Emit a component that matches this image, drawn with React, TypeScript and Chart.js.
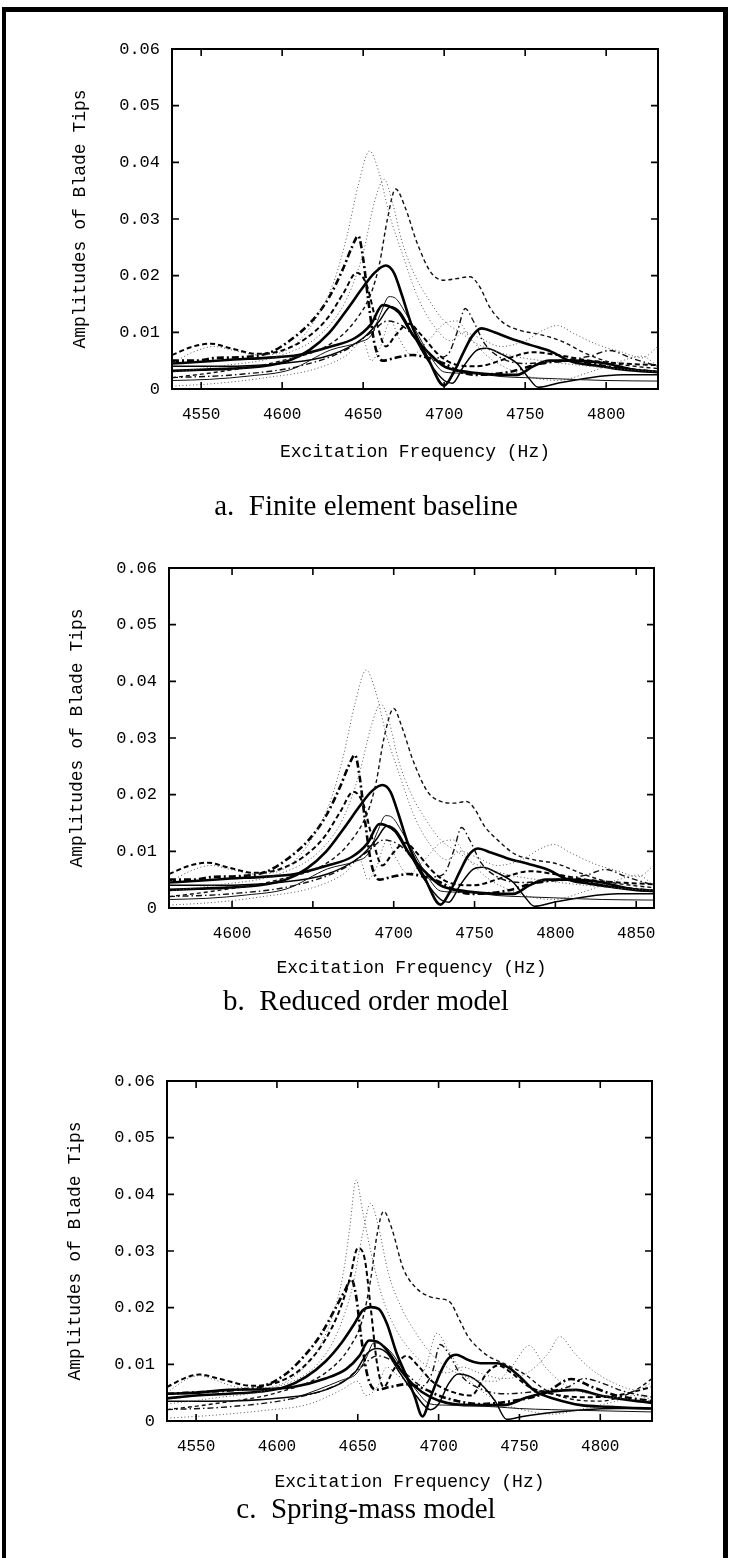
import React, { useEffect, useRef } from 'react';
import { Chart, registerables } from 'chart.js';

Chart.register(...registerables);

type Pt = [number, number];

// ---------------- axis values ----------------
const Y_MIN = 0;
const Y_MAX = 0.06;
const Y_TICKS = [0, 0.01, 0.02, 0.03, 0.04, 0.05, 0.06];
const Y_TICK_LABELS = ['0', '0.01', '0.02', '0.03', '0.04', '0.05', '0.06'];
const X_TITLE = 'Excitation Frequency (Hz)';
const Y_TITLE = 'Amplitudes of Blade Tips';

const A_X_RANGE = [4532, 4832];
const A_X_TICKS = [4550, 4600, 4650, 4700, 4750, 4800];
const B_X_RANGE = [4561, 4861];
const B_X_TICKS = [4600, 4650, 4700, 4750, 4800, 4850];
const C_X_RANGE = [4532, 4832];
const C_X_TICKS = [4550, 4600, 4650, 4700, 4750, 4800];

const CAPTIONS = ['a.  Finite element baseline', 'b.  Reduced order model', 'c.  Spring-mass model'];

// ---------------- a. Finite element baseline ----------------
const A_S1: Pt[] = [[4532,0.0045],[4545,0.0065],[4558,0.0075],[4570,0.0068],[4585,0.006],[4600,0.0065],[4612,0.009],[4622,0.013],[4632,0.019],[4640,0.027],[4647,0.036],[4654,0.042],[4660,0.038],[4666,0.031],[4674,0.024],[4684,0.016],[4694,0.011],[4704,0.0085],[4712,0.01],[4722,0.009],[4735,0.0075],[4750,0.0085],[4762,0.0105],[4770,0.0112],[4780,0.0098],[4795,0.0078],[4810,0.0065],[4822,0.0055],[4832,0.0075]];
const A_S2: Pt[] = [[4532,0.003],[4560,0.004],[4600,0.006],[4625,0.01],[4640,0.016],[4650,0.024],[4657,0.033],[4663,0.037],[4668,0.033],[4674,0.026],[4682,0.02],[4690,0.016],[4700,0.012],[4710,0.01],[4720,0.008],[4740,0.006],[4760,0.005],[4790,0.004],[4832,0.003]];
const A_S3: Pt[] = [[4532,0.002],[4560,0.003],[4600,0.005],[4630,0.008],[4645,0.012],[4655,0.017],[4660,0.022],[4665,0.03],[4670,0.0353],[4676,0.032],[4683,0.026],[4692,0.0205],[4700,0.0192],[4708,0.0195],[4716,0.0198],[4722,0.018],[4728,0.0145],[4736,0.0118],[4746,0.0104],[4758,0.0097],[4772,0.0085],[4788,0.0062],[4804,0.0046],[4818,0.004],[4832,0.0036]];
const A_S4: Pt[] = [[4532,0.005],[4546,0.005],[4560,0.0055],[4574,0.0056],[4592,0.0064],[4605,0.0086],[4619,0.0122],[4629,0.0162],[4638,0.0215],[4643,0.025],[4647,0.027],[4650,0.023],[4653,0.016],[4657,0.008],[4662,0.005],[4670,0.0055],[4680,0.006],[4690,0.0055],[4700,0.0045],[4710,0.003],[4720,0.0025],[4740,0.003],[4760,0.0045],[4780,0.005],[4800,0.004],[4832,0.003]];
const A_S5: Pt[] = [[4532,0.0032],[4550,0.0034],[4568,0.0036],[4588,0.004],[4605,0.0051],[4617,0.0069],[4629,0.0099],[4640,0.014],[4650,0.018],[4657,0.0205],[4664,0.0218],[4669,0.0205],[4674,0.0165],[4680,0.0112],[4690,0.0054],[4700,0.0006],[4706,0.003],[4712,0.0065],[4717,0.0092],[4723,0.0107],[4731,0.01],[4741,0.0089],[4754,0.0077],[4766,0.0066],[4779,0.0048],[4792,0.0042],[4806,0.0036],[4820,0.0032],[4832,0.003]];
const A_S6: Pt[] = [[4532,0.0015],[4555,0.0017],[4580,0.0023],[4605,0.0034],[4630,0.0069],[4648,0.0083],[4655,0.0095],[4661,0.0135],[4666,0.0163],[4670,0.016],[4676,0.0135],[4684,0.0095],[4692,0.0055],[4700,0.003],[4710,0.0028],[4720,0.0027],[4735,0.0022],[4750,0.002],[4770,0.0018],[4800,0.0015],[4832,0.0014]];
const A_S7: Pt[] = [[4532,0.004],[4560,0.004],[4600,0.0045],[4630,0.006],[4650,0.009],[4660,0.012],[4667,0.0145],[4673,0.0135],[4680,0.01],[4690,0.005],[4700,0.0015],[4705,0.001],[4712,0.004],[4720,0.0068],[4726,0.0072],[4735,0.0062],[4745,0.0045],[4752,0.002],[4758,0.0003],[4770,0.001],[4790,0.002],[4810,0.0025],[4832,0.0025]];
const A_S8: Pt[] = [[4532,0.0045],[4550,0.0048],[4570,0.0052],[4590,0.0055],[4610,0.006],[4630,0.0075],[4645,0.009],[4655,0.0115],[4662,0.0148],[4666,0.0146],[4672,0.0135],[4680,0.0098],[4690,0.0065],[4700,0.004],[4710,0.0032],[4720,0.0028],[4735,0.0025],[4745,0.0025],[4755,0.004],[4765,0.005],[4780,0.005],[4800,0.0045],[4815,0.0035],[4832,0.003]];
const A_S9: Pt[] = [[4532,0.002],[4570,0.0025],[4610,0.004],[4640,0.007],[4655,0.01],[4665,0.012],[4675,0.011],[4685,0.008],[4695,0.0055],[4702,0.006],[4708,0.01],[4713,0.0142],[4718,0.012],[4725,0.008],[4735,0.0055],[4750,0.0045],[4770,0.005],[4790,0.0058],[4802,0.0068],[4815,0.0055],[4832,0.004]];
const A_S10: Pt[] = [[4532,0.006],[4545,0.0075],[4556,0.008],[4568,0.0072],[4585,0.0062],[4600,0.0068],[4615,0.009],[4628,0.0125],[4638,0.017],[4646,0.0205],[4652,0.0185],[4658,0.012],[4664,0.0075],[4670,0.0095],[4678,0.0115],[4686,0.0095],[4695,0.0065],[4705,0.0045],[4720,0.004],[4740,0.0055],[4755,0.0065],[4770,0.006],[4790,0.005],[4810,0.0045],[4832,0.0042]];
const A_S11: Pt[] = [[4532,0.0005],[4560,0.001],[4590,0.002],[4620,0.0035],[4640,0.006],[4650,0.0085],[4655,0.005],[4660,0.007],[4667,0.012],[4672,0.009],[4680,0.006],[4690,0.0085],[4700,0.0115],[4708,0.012],[4716,0.009],[4728,0.0055],[4740,0.0035],[4755,0.002],[4770,0.0015],[4790,0.003],[4810,0.005],[4822,0.0058],[4832,0.004]];

// ---------------- b. Reduced order model ----------------
const B_S1: Pt[] = [[4561,0.0045],[4574,0.0065],[4587,0.0075],[4599,0.0068],[4614,0.006],[4629,0.0065],[4641,0.009],[4651,0.013],[4661,0.019],[4669,0.027],[4676,0.036],[4683,0.042],[4689,0.038],[4695,0.031],[4703,0.024],[4713,0.016],[4723,0.011],[4733,0.0085],[4741,0.01],[4751,0.009],[4764,0.0075],[4779,0.0085],[4791,0.0105],[4799,0.0112],[4809,0.0098],[4824,0.0078],[4839,0.0065],[4851,0.0055],[4861,0.0075]];
const B_S2: Pt[] = [[4561,0.003],[4589,0.004],[4629,0.006],[4654,0.01],[4669,0.016],[4679,0.024],[4686,0.032],[4692,0.036],[4697,0.033],[4703,0.026],[4711,0.02],[4719,0.016],[4729,0.012],[4739,0.01],[4749,0.008],[4769,0.006],[4789,0.005],[4819,0.004],[4861,0.003]];
const B_S3: Pt[] = [[4561,0.002],[4589,0.003],[4629,0.005],[4659,0.008],[4674,0.012],[4684,0.017],[4689,0.022],[4694,0.03],[4700,0.0352],[4705,0.032],[4712,0.026],[4721,0.0205],[4729,0.0188],[4737,0.0185],[4745,0.0188],[4750,0.0175],[4756,0.0145],[4765,0.0118],[4775,0.0095],[4787,0.0085],[4801,0.0078],[4817,0.006],[4833,0.0046],[4847,0.004],[4861,0.0036]];
const B_S4: Pt[] = [[4561,0.005],[4575,0.005],[4589,0.0055],[4603,0.0056],[4621,0.0064],[4634,0.0086],[4648,0.0122],[4658,0.0162],[4667,0.0215],[4672,0.025],[4676,0.027],[4679,0.023],[4682,0.016],[4686,0.008],[4691,0.005],[4699,0.0055],[4709,0.006],[4719,0.0055],[4729,0.0045],[4739,0.003],[4749,0.0025],[4769,0.003],[4789,0.0045],[4809,0.005],[4829,0.004],[4861,0.003]];
const B_S5: Pt[] = [[4561,0.0032],[4579,0.0034],[4597,0.0036],[4617,0.004],[4634,0.0051],[4646,0.0069],[4658,0.0099],[4669,0.014],[4679,0.018],[4686,0.0205],[4693,0.0217],[4698,0.0205],[4703,0.0165],[4709,0.0112],[4719,0.0054],[4729,0.0006],[4735,0.003],[4741,0.0065],[4746,0.0092],[4752,0.0105],[4760,0.0098],[4770,0.0088],[4783,0.0078],[4795,0.0068],[4808,0.005],[4821,0.0043],[4835,0.0037],[4849,0.0032],[4861,0.003]];
const B_S6: Pt[] = [[4561,0.0015],[4584,0.0017],[4609,0.0023],[4634,0.0034],[4659,0.0069],[4677,0.0083],[4684,0.0095],[4690,0.0135],[4695,0.0163],[4699,0.016],[4705,0.0135],[4713,0.0095],[4721,0.0055],[4729,0.003],[4739,0.0028],[4749,0.0027],[4764,0.0022],[4779,0.002],[4799,0.0018],[4829,0.0015],[4861,0.0014]];
const B_S7: Pt[] = [[4561,0.004],[4589,0.004],[4629,0.0045],[4659,0.006],[4679,0.009],[4689,0.012],[4696,0.0145],[4702,0.0135],[4709,0.01],[4719,0.005],[4729,0.0015],[4734,0.001],[4741,0.004],[4749,0.0068],[4755,0.0072],[4764,0.0062],[4774,0.0045],[4781,0.002],[4787,0.0003],[4799,0.001],[4819,0.002],[4839,0.0025],[4861,0.0025]];
const B_S8: Pt[] = [[4561,0.0045],[4579,0.0048],[4599,0.0052],[4619,0.0055],[4639,0.006],[4659,0.0075],[4674,0.009],[4684,0.0115],[4691,0.0148],[4695,0.0146],[4701,0.0135],[4709,0.0098],[4719,0.0065],[4729,0.004],[4739,0.0032],[4749,0.0028],[4764,0.0025],[4774,0.0025],[4784,0.004],[4794,0.005],[4809,0.005],[4829,0.0045],[4844,0.0035],[4861,0.003]];
const B_S9: Pt[] = [[4561,0.002],[4599,0.0025],[4639,0.004],[4669,0.007],[4684,0.01],[4694,0.012],[4704,0.011],[4714,0.008],[4724,0.0055],[4731,0.006],[4737,0.01],[4742,0.0142],[4747,0.012],[4754,0.008],[4764,0.0055],[4779,0.0045],[4799,0.005],[4819,0.0058],[4831,0.0068],[4844,0.0055],[4861,0.004]];
const B_S10: Pt[] = [[4561,0.006],[4574,0.0075],[4585,0.008],[4597,0.0072],[4614,0.0062],[4629,0.0068],[4644,0.009],[4657,0.0125],[4667,0.017],[4675,0.0205],[4681,0.0185],[4687,0.012],[4693,0.0075],[4699,0.0095],[4707,0.0115],[4715,0.0095],[4724,0.0065],[4734,0.0045],[4749,0.004],[4769,0.0055],[4784,0.0065],[4799,0.006],[4819,0.005],[4839,0.0045],[4861,0.0042]];
const B_S11: Pt[] = [[4561,0.0005],[4589,0.001],[4619,0.002],[4649,0.0035],[4669,0.006],[4679,0.0085],[4684,0.005],[4689,0.007],[4696,0.012],[4701,0.009],[4709,0.006],[4719,0.0085],[4729,0.0115],[4737,0.012],[4745,0.009],[4757,0.0055],[4769,0.0035],[4784,0.002],[4799,0.0015],[4819,0.003],[4839,0.005],[4851,0.0058],[4861,0.004]];

// ---------------- c. Spring-mass model ----------------
const C_S1: Pt[] = [[4532,0.005],[4545,0.0075],[4552,0.008],[4562,0.0072],[4575,0.006],[4590,0.0058],[4605,0.0068],[4617,0.0095],[4627,0.0135],[4635,0.019],[4641,0.026],[4645,0.034],[4649,0.0425],[4653,0.037],[4658,0.03],[4665,0.022],[4674,0.016],[4684,0.012],[4694,0.0095],[4705,0.0085],[4715,0.0095],[4725,0.0085],[4740,0.0075],[4755,0.0085],[4768,0.012],[4775,0.0149],[4784,0.012],[4795,0.009],[4810,0.0065],[4822,0.0055],[4832,0.0068]];
const C_S2: Pt[] = [[4532,0.003],[4560,0.004],[4600,0.006],[4625,0.01],[4638,0.016],[4647,0.024],[4653,0.033],[4658,0.0384],[4663,0.034],[4669,0.026],[4677,0.02],[4686,0.0155],[4695,0.012],[4705,0.0095],[4720,0.0075],[4735,0.007],[4745,0.0095],[4756,0.0133],[4766,0.0095],[4780,0.006],[4800,0.0045],[4832,0.0035]];
const C_S3: Pt[] = [[4532,0.002],[4560,0.003],[4600,0.005],[4630,0.0085],[4645,0.013],[4653,0.018],[4658,0.025],[4662,0.033],[4666,0.037],[4671,0.034],[4678,0.027],[4686,0.0235],[4694,0.022],[4700,0.0216],[4707,0.021],[4713,0.0178],[4718,0.015],[4724,0.013],[4731,0.0114],[4740,0.0102],[4753,0.0083],[4766,0.0055],[4780,0.004],[4800,0.0035],[4815,0.0045],[4825,0.006],[4832,0.0075]];
const C_S4: Pt[] = [[4532,0.0048],[4546,0.005],[4560,0.0052],[4575,0.0055],[4592,0.0062],[4605,0.0082],[4617,0.0115],[4627,0.0152],[4636,0.0198],[4642,0.023],[4646,0.025],[4649,0.022],[4652,0.015],[4656,0.008],[4661,0.0055],[4670,0.006],[4680,0.0065],[4690,0.0058],[4700,0.0045],[4712,0.0035],[4725,0.003],[4745,0.0035],[4765,0.0048],[4782,0.0074],[4795,0.006],[4810,0.0045],[4832,0.0035]];
const C_S5: Pt[] = [[4532,0.004],[4550,0.0045],[4570,0.0048],[4590,0.0052],[4605,0.006],[4618,0.0078],[4630,0.0105],[4640,0.0138],[4648,0.0172],[4653,0.0195],[4658,0.0201],[4663,0.0198],[4668,0.0172],[4674,0.012],[4680,0.008],[4685,0.0045],[4690,0.0008],[4695,0.0042],[4701,0.0085],[4706,0.011],[4711,0.0117],[4718,0.0108],[4726,0.0102],[4736,0.0102],[4744,0.0093],[4751,0.0076],[4760,0.0052],[4772,0.0039],[4788,0.0028],[4805,0.0025],[4820,0.0023],[4832,0.0022]];
const C_S6: Pt[] = [[4609,0.0038],[4625,0.0055],[4640,0.0072],[4649,0.0083],[4655,0.011],[4660,0.0138],[4665,0.0135],[4671,0.012],[4678,0.009],[4686,0.0055],[4695,0.003],[4705,0.0028],[4720,0.0027],[4735,0.0025],[4750,0.0022],[4770,0.002],[4800,0.0018],[4832,0.0016]];
const C_S7: Pt[] = [[4532,0.0035],[4560,0.0035],[4600,0.004],[4630,0.0055],[4648,0.0085],[4656,0.012],[4662,0.0128],[4668,0.012],[4676,0.0085],[4686,0.0045],[4695,0.002],[4700,0.003],[4706,0.0065],[4712,0.0083],[4720,0.0078],[4728,0.006],[4735,0.0035],[4742,0.0003],[4752,0.0008],[4770,0.0015],[4790,0.002],[4810,0.0022],[4832,0.0022]];
const C_S8: Pt[] = [[4532,0.0048],[4550,0.005],[4570,0.0055],[4590,0.0056],[4610,0.006],[4630,0.0075],[4643,0.0092],[4651,0.0115],[4657,0.0142],[4662,0.014],[4668,0.0125],[4676,0.0092],[4685,0.0062],[4695,0.0042],[4705,0.0032],[4720,0.0028],[4730,0.0028],[4740,0.0028],[4755,0.0042],[4770,0.0052],[4785,0.0055],[4800,0.0045],[4815,0.0038],[4832,0.0032]];
const C_S9: Pt[] = [[4532,0.002],[4570,0.0025],[4610,0.004],[4640,0.0068],[4652,0.0095],[4662,0.0115],[4672,0.0105],[4682,0.0078],[4690,0.0062],[4696,0.0085],[4701,0.0135],[4706,0.012],[4714,0.008],[4725,0.0058],[4740,0.0048],[4760,0.0052],[4780,0.006],[4790,0.0075],[4800,0.0068],[4815,0.0052],[4832,0.0042]];
const C_S10: Pt[] = [[4532,0.006],[4545,0.0078],[4552,0.0082],[4565,0.0074],[4585,0.0062],[4600,0.0068],[4615,0.0092],[4628,0.0135],[4638,0.019],[4645,0.025],[4650,0.0305],[4654,0.029],[4658,0.02],[4662,0.01],[4666,0.006],[4672,0.009],[4680,0.0115],[4688,0.0095],[4696,0.007],[4705,0.0055],[4720,0.0045],[4730,0.0085],[4737,0.0098],[4745,0.0085],[4755,0.0062],[4770,0.0048],[4790,0.0042],[4810,0.0045],[4832,0.006]];
const C_S11: Pt[] = [[4532,0.0005],[4560,0.001],[4590,0.0018],[4620,0.003],[4640,0.0055],[4650,0.007],[4655,0.0045],[4662,0.006],[4668,0.0095],[4675,0.008],[4685,0.0065],[4692,0.0095],[4699,0.0155],[4706,0.0125],[4715,0.0085],[4728,0.005],[4740,0.003],[4755,0.0018],[4770,0.0012],[4790,0.0022],[4810,0.0035],[4822,0.0045],[4832,0.0038]];

const A_SERIES = [A_S1, A_S2, A_S3, A_S4, A_S5, A_S6, A_S7, A_S8, A_S9, A_S10, A_S11];
const B_SERIES = [B_S1, B_S2, B_S3, B_S4, B_S5, B_S6, B_S7, B_S8, B_S9, B_S10, B_S11];
const C_SERIES = [C_S1, C_S2, C_S3, C_S4, C_S5, C_S6, C_S7, C_S8, C_S9, C_S10, C_S11];

// ---------------- styles (not data) ----------------
type LineStyle = { color: string; width: number; dash: number[] };
const STYLE: Record<string, LineStyle> = {
  dot: { color: '#555', width: 1, dash: [1, 2.5] },
  dash: { color: '#111', width: 1.4, dash: [4, 3] },
  dashDotThick: { color: '#000', width: 2.6, dash: [7, 3, 2, 3] },
  solidThick: { color: '#000', width: 2.6, dash: [] },
  solid: { color: '#000', width: 1.5, dash: [] },
  thin: { color: '#111', width: 1, dash: [] },
  dashDot: { color: '#111', width: 1.4, dash: [6, 3, 1.5, 3] },
  dashThick: { color: '#000', width: 2, dash: [5, 3] },
};
const SERIES_STYLES = ['dot', 'dot', 'dash', 'dashDotThick', 'solidThick', 'thin', 'solid', 'solidThick', 'dashDot', 'dashThick', 'dot'];

const MONO = "'Liberation Mono', 'DejaVu Sans Mono', monospace";

const frameTicks = {
  id: 'frameTicks',
  afterDatasetsDraw(chart: any) {
    const { ctx, chartArea: a, scales } = chart;
    const xs = scales.x;
    const ys = scales.y;
    ctx.save();
    ctx.strokeStyle = '#000';
    ctx.lineWidth = 2;
    ctx.setLineDash([]);
    ctx.strokeRect(a.left, a.top, a.right - a.left, a.bottom - a.top);
    ctx.lineWidth = 1.6;
    const L = 7;
    ctx.beginPath();
    xs.ticks.forEach((t: any) => {
      const px = xs.getPixelForValue(t.value);
      ctx.moveTo(px, a.top);
      ctx.lineTo(px, a.top + L);
      ctx.moveTo(px, a.bottom);
      ctx.lineTo(px, a.bottom - L);
    });
    ys.ticks.forEach((t: any) => {
      const py = ys.getPixelForValue(t.value);
      ctx.moveTo(a.left, py);
      ctx.lineTo(a.left + L, py);
      ctx.moveTo(a.right, py);
      ctx.lineTo(a.right - L, py);
    });
    ctx.stroke();
    ctx.restore();
  },
};

type PanelLayout = {
  top: number;
  height: number;
  padLeft: number;
  padRight: number;
  padTop: number;
  padBottom: number;
  yAxisWidth: number;
  xAxisHeight: number;
};

function Panel(props: { series: Pt[][]; xRange: number[]; xTicks: number[]; layout: PanelLayout }) {
  const ref = useRef<HTMLCanvasElement>(null);
  const { series, xRange, xTicks, layout } = props;
  useEffect(() => {
    if (!ref.current) return;
    const datasets = series.map((s, i) => {
      const st = STYLE[SERIES_STYLES[i]];
      return {
        data: s.map(([x, y]) => ({ x, y })),
        borderColor: st.color,
        borderWidth: st.width,
        borderDash: st.dash,
        pointRadius: 0,
        fill: false,
        cubicInterpolationMode: 'monotone' as const,
      };
    });
    const chart = new Chart(ref.current, {
      type: 'line',
      data: { datasets },
      options: {
        responsive: false,
        animation: false,
        events: [],
        layout: {
          padding: { left: layout.padLeft, right: layout.padRight, top: layout.padTop, bottom: layout.padBottom },
        },
        plugins: { legend: { display: false }, tooltip: { enabled: false } },
        scales: {
          x: {
            type: 'linear',
            min: xRange[0],
            max: xRange[1],
            afterBuildTicks: (s: any) => {
              s.ticks = xTicks.map((v) => ({ value: v }));
            },
            afterFit: (s: any) => {
              s.height = layout.xAxisHeight;
            },
            ticks: {
              color: '#000',
              padding: 16,
              maxRotation: 0,
              font: { family: MONO, size: 16 },
              callback: (v: any) => String(v),
            },
            grid: { display: false, drawTicks: false },
            border: { display: false },
            title: {
              display: true,
              text: X_TITLE,
              color: '#000',
              font: { family: MONO, size: 18 },
              padding: { top: 0, bottom: 0 },
            },
          },
          y: {
            type: 'linear',
            min: Y_MIN,
            max: Y_MAX,
            afterBuildTicks: (s: any) => {
              s.ticks = Y_TICKS.map((v) => ({ value: v }));
            },
            afterFit: (s: any) => {
              s.width = layout.yAxisWidth;
            },
            ticks: {
              color: '#000',
              padding: 12,
              font: { family: MONO, size: 17 },
              callback: (_v: any, i: number) => Y_TICK_LABELS[i],
            },
            grid: { display: false, drawTicks: false },
            border: { display: false },
            title: {
              display: true,
              text: Y_TITLE,
              color: '#000',
              font: { family: MONO, size: 18 },
              padding: { top: 0, bottom: 0 },
            },
          },
        },
      },
      plugins: [frameTicks],
    });
    return () => chart.destroy();
  }, []);
  return (
    <canvas
      ref={ref}
      width={732}
      height={layout.height}
      style={{ position: 'absolute', left: 0, top: layout.top, width: 732, height: layout.height }}
    />
  );
}

const LAYOUT_A: PanelLayout = { top: 0, height: 480, padLeft: 69, padRight: 74, padTop: 49, padBottom: 17, yAxisWidth: 103, xAxisHeight: 74 };
const LAYOUT_B: PanelLayout = { top: 520, height: 480, padLeft: 66, padRight: 78, padTop: 48, padBottom: 21, yAxisWidth: 103, xAxisHeight: 71 };
const LAYOUT_C: PanelLayout = { top: 1030, height: 500, padLeft: 64, padRight: 80, padTop: 51, padBottom: 37, yAxisWidth: 103, xAxisHeight: 72 };

const CAPTION_TOPS = [489, 984, 1492];

export default function App() {
  return (
    <div style={{ position: 'absolute', left: 0, top: 0, width: 732, height: 1558, background: '#fff', overflow: 'hidden' }}>
      <div
        style={{
          position: 'absolute',
          left: 2,
          top: 7,
          width: 717,
          height: 1558,
          borderLeft: '4px solid #000',
          borderTop: '5px solid #000',
          borderRight: '5px solid #000',
        }}
      />
      <Panel series={A_SERIES} xRange={A_X_RANGE} xTicks={A_X_TICKS} layout={LAYOUT_A} />
      <Panel series={B_SERIES} xRange={B_X_RANGE} xTicks={B_X_TICKS} layout={LAYOUT_B} />
      <Panel series={C_SERIES} xRange={C_X_RANGE} xTicks={C_X_TICKS} layout={LAYOUT_C} />
      {CAPTIONS.map((c, i) => (
        <div
          key={i}
          style={{
            position: 'absolute',
            left: 0,
            width: 732,
            top: CAPTION_TOPS[i],
            textAlign: 'center',
            whiteSpace: 'pre',
            fontFamily: "'Liberation Serif', 'DejaVu Serif', serif",
            fontSize: 29,
            lineHeight: '32px',
            color: '#000',
          }}
        >
          {c}
        </div>
      ))}
    </div>
  );
}
